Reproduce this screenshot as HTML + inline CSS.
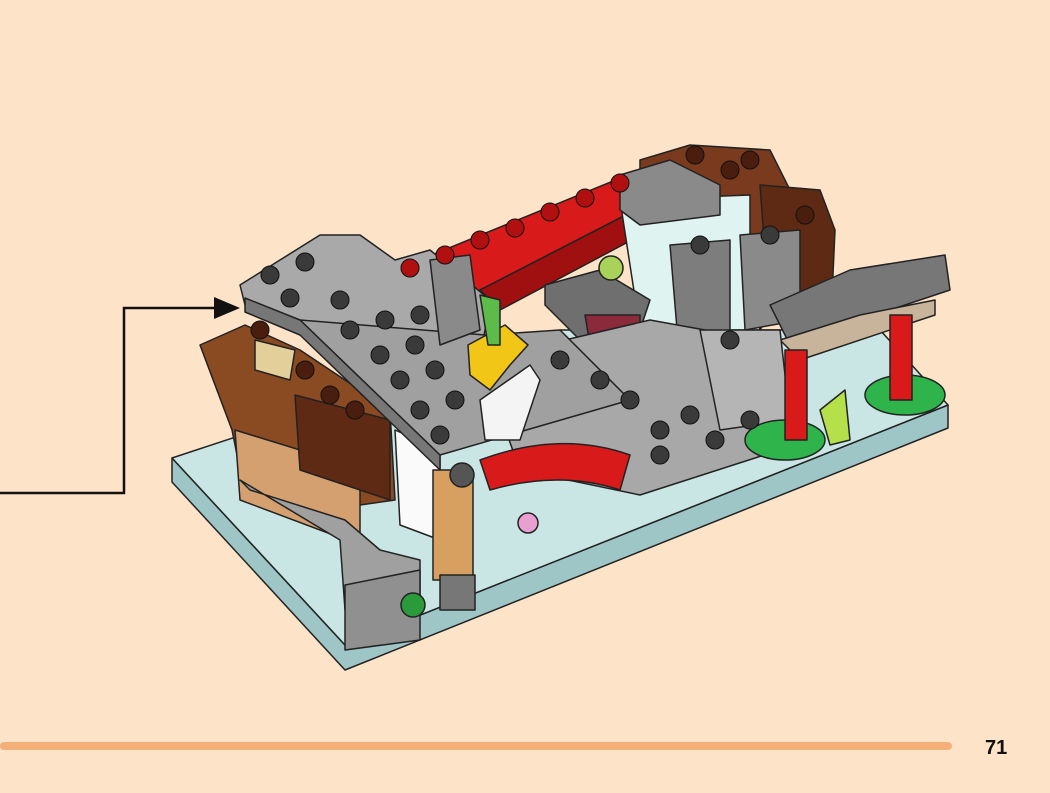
<!DOCTYPE html>
<html><head><meta charset="utf-8"><style>
html,body{margin:0;padding:0;background:#FDE3C8;}
body{width:1050px;height:793px;overflow:hidden;position:relative;font-family:"Liberation Sans",sans-serif;}
</style></head><body>
<svg width="1050" height="793" viewBox="0 0 1050 793" style="position:absolute;left:0;top:0">
<rect width="1050" height="793" fill="#FDE3C8"/>
<!-- arrow -->
<polyline points="0,493 124,493 124,308 222,308" fill="none" stroke="#111" stroke-width="2.5"/>
<polygon points="240,308 214,297 214,319" fill="#111"/>
<g stroke="#222" stroke-width="1.5" stroke-linejoin="round">
<!-- base plate -->
<polygon points="172,458 345,645 948,405 948,428 345,670 172,482" fill="#9fc6c6"/>
<polygon points="172,458 345,645 948,405 880,330 560,330" fill="#c9e6e4"/>
<!-- back brown top -->
<polygon points="640,160 690,145 770,150 790,190 800,260 760,330 740,220 640,200" fill="#7a3a1e"/>
<polygon points="760,185 820,190 835,230 830,340 770,320" fill="#5e2a14"/>
<!-- red beam -->
<polygon points="395,270 640,170 655,200 480,290 460,310 410,300" fill="#d81a1a"/>
<polygon points="480,290 655,200 660,225 500,310" fill="#a01010"/>
<!-- light cyan pillar -->
<polygon points="620,200 750,195 750,330 640,330" fill="#dff3f0"/>
<polygon points="620,175 670,160 720,185 720,215 640,225 620,210" fill="#8a8a8a"/>
<!-- gray blocks back -->
<polygon points="670,245 730,240 730,360 680,365" fill="#7d7d7d"/>
<polygon points="740,235 800,230 800,320 745,330" fill="#8a8a8a"/>
<!-- window piece -->
<polygon points="545,285 600,270 650,300 640,330 580,340 545,305" fill="#6f6f6f"/>
<polygon points="585,315 640,315 640,345 590,345" fill="#8a2a3a"/>
<circle cx="611" cy="268" r="12" fill="#a8d25a"/>
<!-- right ledges -->
<polygon points="770,305 850,270 945,255 950,290 860,320 790,345" fill="#777"/>
<polygon points="780,340 860,315 935,300 935,315 800,360" fill="#c8b49a"/>
<!-- right gray area -->
<polygon points="480,360 650,320 760,340 780,450 640,495 520,470" fill="#a8a8a8"/>
<polygon points="700,330 780,330 790,420 720,430" fill="#b5b5b5"/>
<!-- green plates -->
<ellipse cx="785" cy="440" rx="40" ry="20" fill="#2fb34b"/>
<ellipse cx="905" cy="395" rx="40" ry="20" fill="#2fb34b"/>
<!-- red columns -->
<rect x="785" y="350" width="22" height="90" fill="#d81a1a"/>
<rect x="890" y="315" width="22" height="85" fill="#d81a1a"/>
<polygon points="820,410 845,390 850,440 830,445" fill="#b6e04a"/>
<!-- brown left wall -->
<polygon points="200,345 245,325 300,350 390,410 395,500 360,505 240,470 232,430" fill="#8a4a22"/>
<polygon points="235,430 300,450 360,470 360,545 240,500" fill="#d4a070"/>
<polygon points="295,395 390,420 390,500 300,470" fill="#5e2a14"/>
<polygon points="255,340 295,350 290,380 255,370" fill="#e3cf9a"/>
<!-- white inner -->
<polygon points="395,430 440,450 440,540 400,525" fill="#fafafa"/>
<!-- gray roof -->
<polygon points="240,285 320,235 360,235 395,260 430,250 490,300 485,330 470,420 440,455 300,320 245,305" fill="#a9a9a9"/>
<polygon points="300,320 440,455 630,400 560,330 485,335" fill="#a0a0a0"/>
<polygon points="245,298 300,320 440,455 440,470 300,335 245,312" fill="#777"/>
<!-- front gray bricks lower -->
<polygon points="240,480 340,540 345,610 420,600 420,560 380,550 345,520 250,490" fill="#a0a0a0"/>
<polygon points="345,585 420,570 420,640 345,650" fill="#909090"/>
<!-- pillar wood -->
<rect x="433" y="470" width="40" height="110" fill="#d8a060"/>
<rect x="440" y="575" width="35" height="35" fill="#777"/>
<!-- red arch -->
<path d="M480,460 Q560,430 630,455 L620,490 Q560,470 490,490 Z" fill="#d81a1a"/>
<circle cx="462" cy="475" r="12" fill="#555"/>
<!-- yellow / white -->
<polygon points="468,345 505,325 528,345 510,365 490,390 470,375" fill="#f2c617"/>
<polygon points="480,400 530,365 540,380 520,440 485,440" fill="#f4f4f4"/>
<polygon points="430,260 470,255 480,330 440,345" fill="#8a8a8a"/>
<polygon points="480,295 500,300 500,345 488,345" fill="#5dbb4a"/>
<circle cx="413" cy="605" r="12" fill="#2a9a3a"/>
<circle cx="528" cy="523" r="10" fill="#e8a0d0"/>
</g>
<!-- studs -->
<g fill="#3a3a3a" stroke="#111" stroke-width="1">
<circle cx="270" cy="275" r="9"/><circle cx="305" cy="262" r="9"/><circle cx="290" cy="298" r="9"/><circle cx="340" cy="300" r="9"/>
<circle cx="350" cy="330" r="9"/><circle cx="385" cy="320" r="9"/><circle cx="420" cy="315" r="9"/>
<circle cx="380" cy="355" r="9"/><circle cx="415" cy="345" r="9"/><circle cx="400" cy="380" r="9"/><circle cx="435" cy="370" r="9"/>
<circle cx="420" cy="410" r="9"/><circle cx="455" cy="400" r="9"/><circle cx="440" cy="435" r="9"/>
<circle cx="600" cy="380" r="9"/><circle cx="630" cy="400" r="9"/><circle cx="560" cy="360" r="9"/><circle cx="660" cy="430" r="9"/>
<circle cx="690" cy="415" r="9"/><circle cx="715" cy="440" r="9"/><circle cx="730" cy="340" r="9"/><circle cx="750" cy="420" r="9"/>
<circle cx="660" cy="455" r="9"/><circle cx="700" cy="245" r="9"/><circle cx="770" cy="235" r="9"/>
<circle cx="440" cy="200" r="0"/>
</g>
<g fill="#b01010" stroke="#111" stroke-width="1">
<circle cx="410" cy="268" r="9"/><circle cx="445" cy="255" r="9"/><circle cx="480" cy="240" r="9"/><circle cx="515" cy="228" r="9"/>
<circle cx="550" cy="212" r="9"/><circle cx="585" cy="198" r="9"/><circle cx="620" cy="183" r="9"/>
</g>
<g fill="#4a1e0e" stroke="#111" stroke-width="1">
<circle cx="695" cy="155" r="9"/><circle cx="730" cy="170" r="9"/><circle cx="750" cy="160" r="9"/><circle cx="805" cy="215" r="9"/>
<circle cx="260" cy="330" r="9"/><circle cx="305" cy="370" r="9"/><circle cx="330" cy="395" r="9"/><circle cx="355" cy="410" r="9"/>
</g>
<rect x="0" y="742" width="952" height="8" rx="4" fill="#F5B07A"/>
<text x="985" y="754" font-family="Liberation Sans, sans-serif" font-weight="bold" font-size="20" fill="#111">71</text>
</svg>
</body></html>
